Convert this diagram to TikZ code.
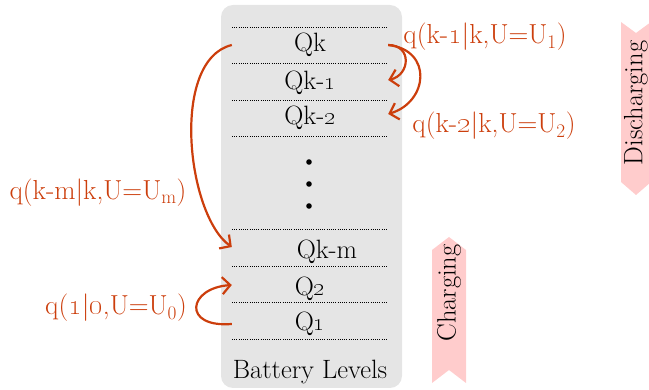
\documentclass[tikz,border=0pt]{standalone}
\usetikzlibrary{arrows.meta}
\definecolor{transred}{RGB}{204,62,12}
\definecolor{bannerpink}{RGB}{255,204,204}

\begin{document}
\begin{tikzpicture}[x=1pt, y=-1pt, font=\fontsize{26.5}{30}\selectfont,
  level/.style={minimum width=156pt, minimum height=28pt, inner sep=0pt},
  trans/.style={draw=transred, line width=2.2pt, -{Straight Barb[length=8pt,width=17pt]}},
  translabel/.style={text=transred, font=\fontsize{27.5}{31}\selectfont, inner sep=0pt}]
  \useasboundingbox (0,0) rectangle (649,390);
  \fill[black!10, rounded corners=12pt] (221,5) rectangle (402,388);
  \foreach \y in {28,64,101,137,230,267,303,340}
    \draw[line width=1pt, dash pattern=on 1pt off 1.2pt] (232,\y) -- (388,\y);
  \foreach \y in {162,184,206}
    \fill (309,\y) circle (2.8pt);

  \node[level] (qk) at (310,45) {Qk};
  \node[level] (qk1) at (310,83) {Qk-\oldstylenums{1}};
  \node[level] (qk2) at (310,118) {Qk-\oldstylenums{2}};
  \node[level] (qkm) at (310,252) {\hspace*{34pt}Qk-m};
  \node[level] (q2) at (310,289) {Q\oldstylenums{2}};
  \node[level] (q1) at (310,324) {Q\oldstylenums{1}};
  \node (levels) at (310,372) {Battery Levels};

  \draw[trans] (qk.east) .. controls +(24,0) and +(22,-5) .. ([yshift=3pt]qk1.east);
  \draw[trans] (qk.east) .. controls +(45,5) and +(40,-12) .. ([yshift=4pt]qk2.east);
  \draw[trans] (qk.west) .. controls +(-62,15) and +(-45,-32) .. ([yshift=5pt]qkm.west);
  \draw[trans] (q1.west) .. controls +(-50,4) and +(-44,3) .. ([yshift=4pt]q2.west);

  \node[translabel] (l1) at (485,37) {q(k-\oldstylenums{1}|k,U=U\textsubscript{1})};
  \node[translabel] (l2) at (494,126) {q(k-\oldstylenums{2}|k,U=U\textsubscript{2})};
  \node[translabel] (lm) at (98,193) {q(k-m|k,U=U\textsubscript{m})};
  \node[translabel] (l0) at (116,308) {q(\oldstylenums{1}|\oldstylenums{0},U=U\textsubscript{0})};

  \fill[bannerpink] (432,250) -- (449,237) -- (466,250) -- (466,383) -- (449,370) -- (432,383) -- cycle;
  \node[rotate=90] (charging) at (449,293) {Charging};
  \fill[bannerpink] (621,22) -- (636,33) -- (651,22) -- (651,182) -- (636,195) -- (621,182) -- cycle;
  \node[rotate=90] (discharging) at (636,103) {Discharging};
\end{tikzpicture}
\end{document}
